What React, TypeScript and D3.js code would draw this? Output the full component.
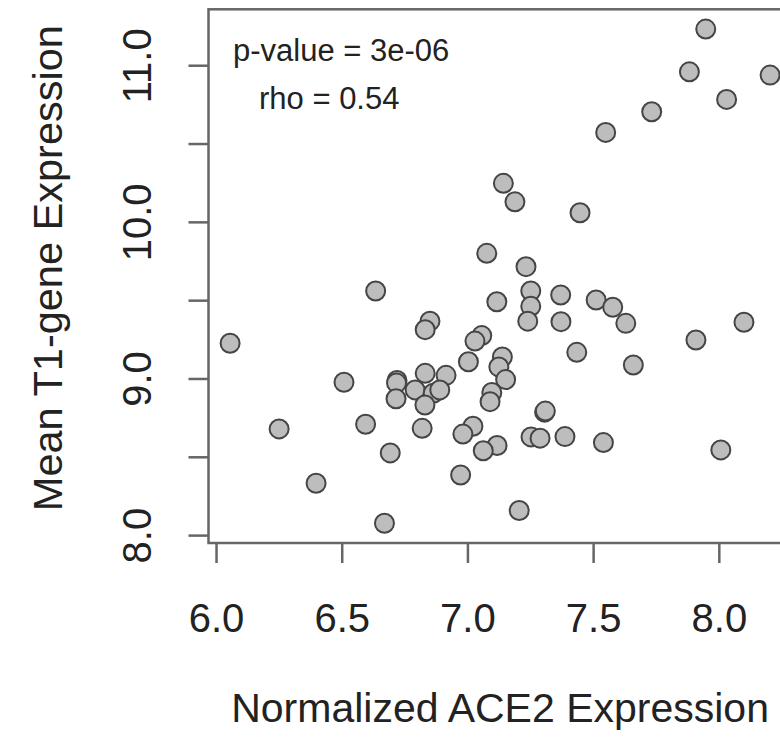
import React from "react";
import * as d3 from "d3";

// Normalized ACE2 expression (x) and mean T1-gene expression (y), one entry per sample
const aceValues = [
  7.946, 7.881, 8.202, 8.029, 7.731, 7.548, 7.141, 7.187, 7.446, 7.075, 7.231,
  7.115, 7.25, 7.25, 7.238, 7.369, 7.37, 7.51, 7.576, 7.628, 7.433, 7.658,
  7.907, 8.098, 8.006, 7.305, 7.308, 7.251, 7.287, 7.386, 7.539, 7.116, 7.061,
  7.204, 7.055, 7.028, 7.137, 7.123, 7.15, 7.095, 7.088, 6.633, 6.054, 6.849,
  6.83, 7.002, 6.507, 6.718, 6.716, 6.714, 6.83, 6.913, 6.79, 6.862, 6.888,
  6.829, 6.249, 6.593, 6.818, 7.02, 6.98, 6.691, 6.971, 6.396, 6.668,
];
const t1Values = [
  11.234, 10.961, 10.94, 10.785, 10.706, 10.574, 10.249, 10.131, 10.061, 9.802,
  9.717, 9.493, 9.562, 9.464, 9.369, 9.536, 9.366, 9.504, 9.458, 9.355, 9.17,
  9.089, 9.249, 9.362, 8.547, 8.788, 8.795, 8.63, 8.622, 8.632, 8.594, 8.575,
  8.542, 8.16, 9.277, 9.242, 9.14, 9.077, 8.996, 8.914, 8.855, 9.562, 9.228,
  9.369, 9.315, 9.11, 8.979, 8.99, 8.975, 8.874, 9.036, 9.023, 8.93, 8.909,
  8.93, 8.834, 8.681, 8.711, 8.685, 8.698, 8.648, 8.528, 8.387, 8.334, 8.079,
];

const xTicks = [6.0, 6.5, 7.0, 7.5, 8.0];
const yTicks = [8.0, 8.5, 9.0, 9.5, 10.0, 10.5, 11.0];
const yLabels = [8.0, 9.0, 10.0, 11.0];

const pValueText = "p-value = 3e-06";
const rhoText = "rho = 0.54";
const xTitle = "Normalized ACE2 Expression";
const yTitle = "Mean T1-gene Expression";

const W = 780;
const H = 738;
const FONT = "'Liberation Sans', Arial, Helvetica, sans-serif";

// R-style axis limits: data range padded by 4% on each side
function padded(values: number[]): [number, number] {
  const [lo, hi] = d3.extent(values) as [number, number];
  const p = (hi - lo) * 0.04;
  return [lo - p, hi + p];
}

export default function App() {
  const x = d3.scaleLinear().domain(padded(aceValues)).range([208.5, 791.7]);
  const y = d3.scaleLinear().domain(padded(t1Values)).range([543, 9.3]);

  const [x0, x1] = x.range();
  const [yb, yt] = y.range();
  const tickLen = 20;
  const axisColor = "#666";

  const points = aceValues.map((a, i) => ({ a, t: t1Values[i] }));

  return (
    <svg
      width={W}
      height={H}
      style={{ position: "absolute", left: 0, top: 0, background: "#fff" }}
      fontFamily={FONT}
    >
      {/* plot box */}
      <rect
        x={x0}
        y={yt}
        width={x1 - x0}
        height={yb - yt}
        fill="none"
        stroke={axisColor}
        strokeWidth={2.5}
      />

      {/* x axis */}
      <g>
        {xTicks.map((v) => (
          <g key={v} transform={`translate(${x(v)},${yb})`}>
            <line y1={0} y2={tickLen} stroke={axisColor} strokeWidth={2.5} />
            <text y={89} textAnchor="middle" fontSize={40} fill="#222">
              {v.toFixed(1)}
            </text>
          </g>
        ))}
      </g>

      {/* y axis */}
      <g>
        {yTicks.map((v) => (
          <line
            key={v}
            x1={x0}
            x2={x0 - tickLen}
            y1={y(v)}
            y2={y(v)}
            stroke={axisColor}
            strokeWidth={2.5}
          />
        ))}
        {yLabels.map((v) => (
          <text
            key={v}
            transform={`translate(151,${y(v)}) rotate(-90)`}
            textAnchor="middle"
            fontSize={40}
            fill="#222"
          >
            {v.toFixed(1)}
          </text>
        ))}
      </g>

      {/* points */}
      <g>
        {points.map((d, i) => (
          <circle
            key={i}
            cx={x(d.a)}
            cy={y(d.t)}
            r={9.5}
            fill="#bdbdbd"
            stroke="#454545"
            strokeWidth={2}
          />
        ))}
      </g>

      {/* stats annotation */}
      <text x={233} y={61} fontSize={31} fill="#222">
        {pValueText}
      </text>
      <text x={259} y={109} fontSize={31} fill="#222">
        {rhoText}
      </text>

      {/* axis titles */}
      <text x={(x0 + x1) / 2} y={722} textAnchor="middle" fontSize={41} fill="#222">
        {xTitle}
      </text>
      <text
        transform={`translate(62,${(yb + yt) / 2 - 8}) rotate(-90)`}
        textAnchor="middle"
        fontSize={41.5}
        fill="#222"
      >
        {yTitle}
      </text>
    </svg>
  );
}
